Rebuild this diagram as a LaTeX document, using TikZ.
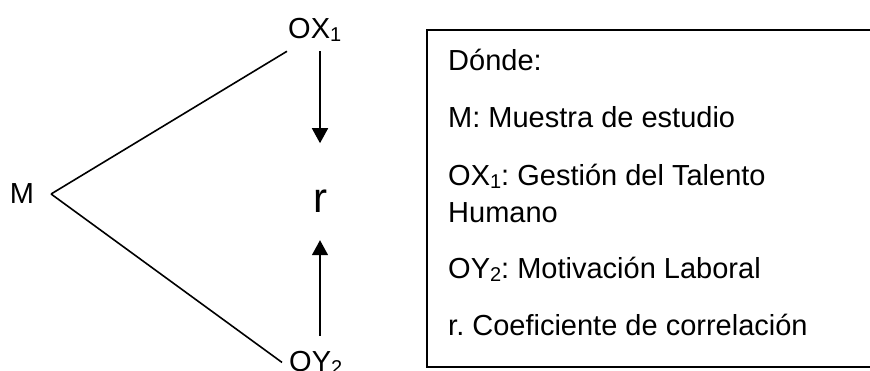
\documentclass[tikz,border=0pt]{standalone}
\usepackage{fontspec}
\setmainfont{Liberation Sans}
\usetikzlibrary{arrows.meta, positioning}

\newcommand{\indice}[1]{\raisebox{-0.2ex}{\fontsize{20}{20}\selectfont #1}}
\frenchspacing

\begin{document}
\begin{tikzpicture}[x=1pt, y=-1pt,
	etiqueta/.style={font=\fontsize{29}{34}\selectfont, inner sep=0pt},
	linea/.style={line width=1.6pt, draw=black},
	flecha/.style={linea, -{Triangle[length=15pt, width=16pt]}},
	marco/.style={line width=1.2pt, draw=black}]
	\useasboundingbox (0,0) rectangle (870,370);

	% Add the variables
	\node[etiqueta,
		  outer xsep=17pt] (m) at (22,194) {M};
	\node[etiqueta,
		  anchor=base west,
		  inner xsep=1pt,
		  inner ysep=10pt] (ox) at (287,38) {OX\indice{1}};
	\node[etiqueta,
		  anchor=base west,
		  inner xsep=7pt] (oy) at (282,371) {OY\indice{2}};
	\node[inner sep=0pt,
		  font=\fontsize{42}{48}\selectfont,
		  anchor=base] (r) at (320,212) {r};

	\draw[linea] (m.east) -- (ox.south west);
	\draw[linea] (m.east) -- (oy.west);
	\draw[flecha, shorten >=46pt] (ox.south -| r.north) -- (r.north);
	\draw[flecha, shorten <=15pt, shorten >=28pt] (oy.north -| r.south) -- (r.south);

	% Add the legend
	\draw[marco] (870,30) -- (427,30) -- (427,367) -- (870,367);
	\node[etiqueta, anchor=base west] (donde) at (448,70) {Dónde:};
	\node[etiqueta, anchor=base west] (lm) at (448,127) {M: Muestra de estudio};
	\node[etiqueta, anchor=base west] (lox) at (448,185) {OX\indice{1}: Gestión del Talento};
	\node[etiqueta, anchor=base west] (lhum) at (448,222) {Humano};
	\node[etiqueta, anchor=base west] (loy) at (448,278) {OY\indice{2}: Motivación Laboral};
	\node[etiqueta, anchor=base west] (lr) at (448,335) {r. Coeficiente de correlación};
\end{tikzpicture}
\end{document}
